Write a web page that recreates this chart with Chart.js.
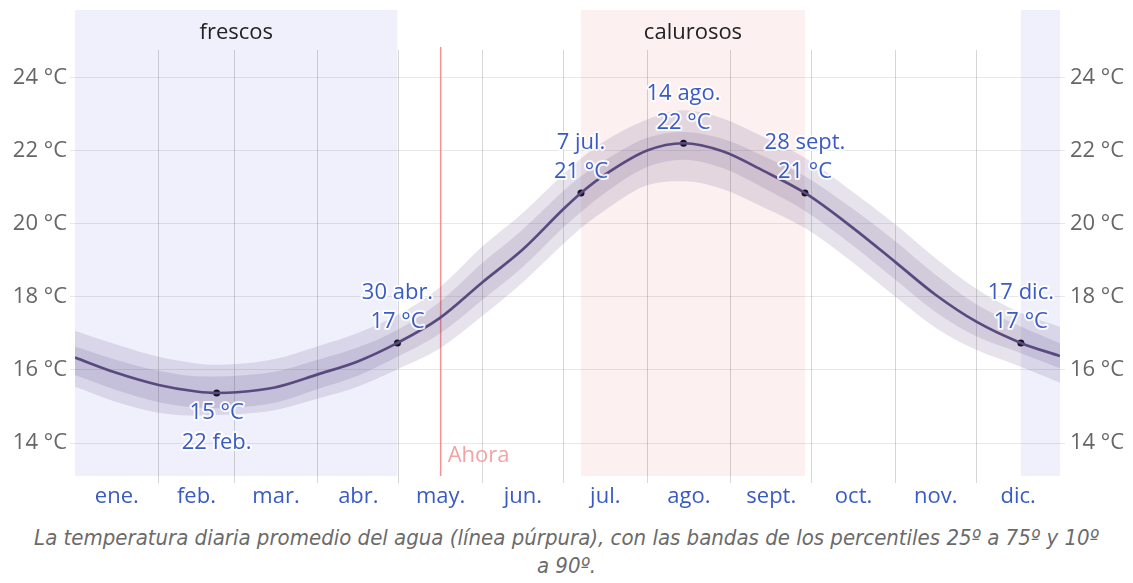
<!DOCTYPE html>
<html lang="es">
<head>
<meta charset="utf-8">
<title>Temperatura del agua</title>
<script src="https://cdn.jsdelivr.net/npm/chart.js@4.4.1/dist/chart.umd.min.js"></script>
<style>
  body { margin: 0; background: #fff; }
  #wrap { position: relative; width: 1133px; height: 515px; }
  #caption {
    width: 1133px;
    margin-top: 9px;
    text-align: center;
    font-family: "Liberation Sans Narrow", "DejaVu Sans Condensed", "Open Sans", sans-serif;
    font-style: italic;
    font-size: 22px;
    line-height: 28px;
    color: #6b6b6b;
  }
</style>
</head>
<body>
<div id="wrap"><canvas id="myChart"></canvas></div>
<div id="caption">La temperatura diaria promedio del agua (línea púrpura), con las bandas de los percentiles 25º a 75º y 10º<br>a 90º.</div>

<script>
// day of year (0 = 1 ene., 365 = 31 dic.)
var days  = [0, 15, 31, 45, 52.5, 60, 74, 90, 105, 119.5, 135, 151, 166, 181, 187.5, 196, 212, 225.5, 240, 255, 270.5, 288, 304, 319, 334, 350.5, 365];
var mean  = [16.34, 15.93, 15.59, 15.41, 15.37, 15.39, 15.52, 15.88, 16.24, 16.74, 17.41, 18.40, 19.30, 20.40, 20.84, 21.32, 22.00, 22.20, 21.98, 21.45, 20.84, 19.90, 18.95, 18.05, 17.32, 16.74, 16.38];
var p90   = [17.07, 16.70, 16.36, 16.18, 16.14, 16.16, 16.30, 16.65, 17.02, 17.50, 18.25, 19.38, 20.30, 21.35, 21.78, 22.25, 22.85, 23.10, 22.88, 22.38, 21.80, 20.88, 19.98, 19.05, 18.22, 17.56, 17.18];
var p75   = [16.64, 16.28, 15.98, 15.83, 15.82, 15.84, 15.95, 16.28, 16.62, 17.10, 17.85, 18.93, 19.85, 20.90, 21.30, 21.72, 22.35, 22.51, 22.32, 21.85, 21.30, 20.42, 19.52, 18.60, 17.80, 17.19, 16.73];
var p25   = [15.86, 15.46, 15.12, 14.97, 14.95, 14.97, 15.10, 15.48, 15.85, 16.36, 16.98, 17.92, 18.82, 19.90, 20.32, 20.82, 21.55, 21.75, 21.52, 20.98, 20.35, 19.42, 18.47, 17.58, 16.92, 16.46, 16.05];
var p10   = [15.54, 15.13, 14.83, 14.75, 14.77, 14.79, 14.90, 15.22, 15.55, 16.02, 16.58, 17.48, 18.40, 19.45, 19.88, 20.35, 21.05, 21.16, 20.95, 20.45, 19.88, 18.95, 18.00, 17.15, 16.55, 16.09, 15.65];

// months
var monthNames  = ['ene.', 'feb.', 'mar.', 'abr.', 'may.', 'jun.', 'jul.', 'ago.', 'sept.', 'oct.', 'nov.', 'dic.'];
var monthStarts = [0, 31, 59, 90, 120, 151, 181, 212, 243, 273, 304, 334, 365];

// y ticks
var tempTicks = [14, 16, 18, 20, 22, 24];

// highlighted days
var markerDays  = [52.5, 119.5, 187.5, 225.5, 270.5, 350.5];
var markerNames = ['22 feb.', '30 abr.', '7 jul.', '14 ago.', '28 sept.', '17 dic.'];
var markerBelow = [true, false, false, false, false, false];

// seasons
var seasonNames  = ['frescos', 'calurosos', ''];
var seasonStart  = [0, 187.5, 350.5];
var seasonEnd    = [119.5, 270.5, 365];
var seasonColors = ['#f0f0fd', '#fdf0f0', '#f0f0fd'];

var nowDay = 135.5;

var FONT = "'Open Sans', sans-serif";
var BLUE = '#3a5bc4';

function pts(arr) {
  return days.map(function(d, i) { return { x: d, y: arr[i] }; });
}

var monthMids = [];
for (var i = 0; i < 12; i++) monthMids.push((monthStarts[i] + monthStarts[i + 1]) / 2);
var innerStarts = monthStarts.slice(1, 12);

var markerPts = markerDays.map(function(d) {
  return { x: d, y: mean[days.indexOf(d)] };
});

// season background + header labels
var seasonBands = {
  id: 'seasonBands',
  beforeDraw: function(chart) {
    var ctx = chart.ctx, a = chart.chartArea, x = chart.scales.x;
    ctx.save();
    for (var i = 0; i < seasonNames.length; i++) {
      var x0 = x.getPixelForValue(seasonStart[i]);
      var x1 = x.getPixelForValue(seasonEnd[i]);
      ctx.fillStyle = seasonColors[i];
      ctx.fillRect(x0, 10, x1 - x0, a.bottom - 10);
      if (seasonNames[i]) {
        ctx.fillStyle = '#222';
        ctx.font = '22px ' + FONT;
        ctx.textAlign = 'center';
        ctx.textBaseline = 'middle';
        ctx.fillText(seasonNames[i], (x0 + x1) / 2, 33);
      }
    }
    ctx.restore();
  },
  beforeDatasetsDraw: function(chart) {
    // "Ahora" marker line
    var ctx = chart.ctx, a = chart.chartArea;
    var px = chart.scales.x.getPixelForValue(nowDay);
    ctx.save();
    ctx.strokeStyle = 'rgba(240,110,110,0.75)';
    ctx.lineWidth = 1.5;
    ctx.beginPath();
    ctx.moveTo(px, a.top - 3);
    ctx.lineTo(px, a.bottom);
    ctx.stroke();
    ctx.fillStyle = '#f4a3a3';
    ctx.font = '22px ' + FONT;
    ctx.textAlign = 'left';
    ctx.textBaseline = 'middle';
    ctx.fillText('Ahora', px + 7, a.bottom - 20);
    ctx.restore();
  }
};

// date / temperature labels next to the highlighted points
var markerLabels = {
  id: 'markerLabels',
  afterDatasetsDraw: function(chart) {
    var ctx = chart.ctx;
    var meta = chart.getDatasetMeta(5);
    ctx.save();
    ctx.font = '22px ' + FONT;
    ctx.textAlign = 'center';
    ctx.textBaseline = 'middle';
    ctx.lineJoin = 'round';
    meta.data.forEach(function(p, i) {
      var temp = Math.round(markerPts[i].y) + ' °C';
      var lines, offs;
      if (markerBelow[i]) {
        lines = [temp, markerNames[i]];
        offs = [20, 50];
      } else {
        lines = [markerNames[i], temp];
        offs = [-50, -21];
      }
      lines.forEach(function(t, j) {
        ctx.strokeStyle = 'rgba(255,255,255,0.85)';
        ctx.lineWidth = 4;
        ctx.strokeText(t, p.x, p.y + offs[j]);
        ctx.fillStyle = BLUE;
        ctx.fillText(t, p.x, p.y + offs[j]);
      });
    });
    ctx.restore();
  }
};

var bandColor = 'rgba(90,70,130,0.15)';

var data = {
  datasets: [
    { data: pts(p90), fill: '+1', backgroundColor: bandColor, borderWidth: 0, pointRadius: 0 },
    { data: pts(p10), fill: false, borderWidth: 0, pointRadius: 0 },
    { data: pts(p75), fill: '+1', backgroundColor: bandColor, borderWidth: 0, pointRadius: 0 },
    { data: pts(p25), fill: false, borderWidth: 0, pointRadius: 0 },
    { data: pts(mean), fill: false, borderColor: '#5b4d7f', borderWidth: 2.7, pointRadius: 0 },
    { data: markerPts, showLine: false, pointRadius: 3.5, pointBackgroundColor: '#000', pointBorderWidth: 0 }
  ]
};

var yTicks = function(scale) {
  scale.ticks = tempTicks.map(function(v) { return { value: v }; });
};

var options = {
  responsive: true,
  maintainAspectRatio: false,
  animation: false,
  layout: { padding: { top: 50, left: 0, right: 0, bottom: 0 } },
  plugins: { legend: { display: false }, tooltip: { enabled: false } },
  elements: { line: { cubicInterpolationMode: 'monotone' } },
  scales: {
    x: {
      type: 'linear',
      min: 0,
      max: 365,
      afterBuildTicks: function(scale) {
        scale.ticks = innerStarts.concat(monthMids).map(function(v) { return { value: v }; });
      },
      afterFit: function(scale) { scale.height = 39; },
      border: { display: false },
      grid: {
        color: function(c) {
          return c.tick && innerStarts.indexOf(c.tick.value) >= 0 ? 'rgba(0,0,0,0.16)' : 'rgba(0,0,0,0)';
        },
        tickLength: 7
      },
      ticks: {
        autoSkip: false,
        maxRotation: 0,
        padding: 1,
        color: BLUE,
        font: { family: FONT, size: 22 },
        callback: function(v) {
          var k = monthMids.indexOf(v);
          return k >= 0 ? monthNames[k] : '';
        }
      }
    },
    y: {
      position: 'left',
      min: 13.1,
      max: 24.75,
      afterBuildTicks: yTicks,
      afterFit: function(scale) { scale.width = 75; },
      border: { display: false },
      grid: { color: 'rgba(0,0,0,0.09)', tickLength: 5 },
      ticks: {
        padding: 3,
        color: '#666',
        font: { family: FONT, size: 22 },
        callback: function(v) { return v + ' °C'; }
      }
    },
    y2: {
      position: 'right',
      min: 13.1,
      max: 24.75,
      afterBuildTicks: yTicks,
      afterFit: function(scale) { scale.width = 73; },
      border: { display: false },
      grid: { drawOnChartArea: false, color: 'rgba(0,0,0,0.09)', tickLength: 5 },
      ticks: {
        padding: 5,
        color: '#666',
        font: { family: FONT, size: 22 },
        callback: function(v) { return v + ' °C'; }
      }
    }
  }
};

document.addEventListener("DOMContentLoaded", function(event) {
  var ctx = document.getElementById('myChart').getContext('2d');
  var myLineChart = new Chart(ctx, {
    type: 'line',
    data: data,
    options: options,
    plugins: [seasonBands, markerLabels]
  });
});
</script>
</body>
</html>
